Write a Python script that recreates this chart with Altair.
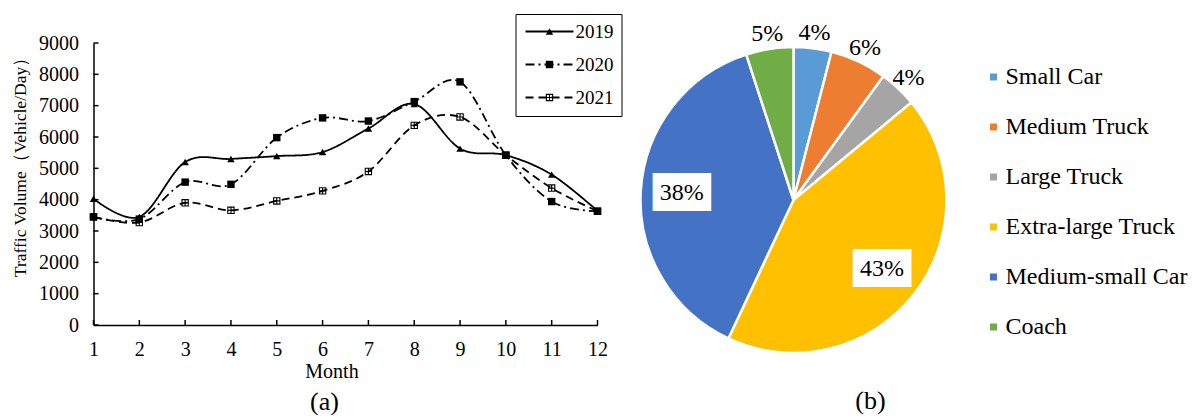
import altair as alt
import pandas as pd

# ---------------- data ----------------
months = list(range(1, 13))
years = ["2019", "2020", "2021"]
v2019 = [4030, 3450, 5200, 5300, 5390, 5520, 6270, 7050, 5630, 5420, 4800, 3640]
v2020 = [3450, 3380, 4560, 4490, 5980, 6610, 6510, 7130, 7760, 5420, 3940, 3630]
v2021 = [3450, 3270, 3900, 3660, 3960, 4280, 4900, 6370, 6640, 5420, 4370, 3630]
y_ticks = list(range(0, 9001, 1000))
y_title = "Traffic Volume（Vehicle/Day）"

categories = ["Small Car", "Medium Truck", "Large Truck", "Extra-large Truck",
              "Medium-small Car", "Coach"]
shares = [4, 6, 4, 43, 38, 5]
colors = ["#5B9BD5", "#ED7D31", "#A5A5A5", "#FFC000", "#4472C4", "#70AD47"]
inside = [False, False, False, True, True, False]

FONT = "Liberation Serif"

# ---------------- line chart ----------------
rows = []
for yr, vals in zip(years, [v2019, v2020, v2021]):
    for m, v in zip(months, vals):
        rows.append({"month": m, "value": v, "year": yr, "ym": yr})
line_df = pd.DataFrame(rows)

W_L, H_L = 504, 282
y_max = 9000
tick_len_y = y_max * 5 / H_L          # 5 px inward ticks
tick_len_x = (12 - 1) * 5 / W_L

x_scale = alt.Scale(domain=[1, 12], nice=False, zero=False)
y_scale = alt.Scale(domain=[0, y_max], nice=False)
x_axis = alt.Axis(values=months, title="Month", ticks=False, labelFlush=False,
                  labelPadding=14, labelFontSize=20, labelFont=FONT,
                  titleFont=FONT, titleFontSize=20, titleFontWeight="normal",
                  titlePadding=2, titleX=238, titleAnchor="start", titleAlign="center",
                  domainColor="black", domainWidth=1.5, grid=False,
                  labelColor="black", titleColor="black")
y_axis = alt.Axis(values=y_ticks, format="d", title=None, ticks=False, tickCount=10,
                  labelOverlap=False, labelFlush=False,
                  labelPadding=15, labelFontSize=20, labelFont=FONT,
                  domainColor="black", domainWidth=1.5, grid=False,
                  labelColor="black")

xt_df = pd.DataFrame({"month": months, "value": 0.0, "v2": tick_len_y})
x_ticks = alt.Chart(xt_df).mark_rule(color="black", strokeWidth=1.5).encode(
    x=alt.X("month:Q", scale=x_scale, axis=x_axis),
    y=alt.Y("value:Q", scale=y_scale, axis=y_axis),
    y2="v2:Q")
yt_df = pd.DataFrame({"value": y_ticks, "month": 1.0, "m2": 1 + tick_len_x})
y_ticks_m = alt.Chart(yt_df).mark_rule(color="black", strokeWidth=1.5).encode(
    y="value:Q", x="month:Q", x2="m2:Q")

# y-axis title as a rotated text placed left of the axis
y_title_txt = alt.Chart(pd.DataFrame({"t": [y_title]})).mark_text(
    angle=270, font=FONT, fontSize=17.5, color="black", align="center", baseline="middle"
).encode(text="t:N", x=alt.value(-73), y=alt.value(120))

line_sym = "M-2.5,0H13.5"
lines = alt.Chart(line_df).mark_line(interpolate="cardinal", color="black",
                                     strokeWidth=1.8).encode(
    x="month:Q", y="value:Q",
    strokeDash=alt.StrokeDash("year:N",
                              scale=alt.Scale(domain=years, range=[[1, 0], [9, 4, 2, 4], [8, 5]]),
                              legend=alt.Legend(orient="none", legendX=422, legendY=-29, title=None,
                                                symbolType=line_sym, symbolSize=36,
                                                symbolStrokeWidth=1.8, symbolStrokeColor="black",
                                                labelFont=FONT, labelFontSize=19, labelColor="black",
                                                strokeColor="black", padding=8, rowPadding=13,
                                                labelOffset=33)),
)

# hollow square with a cross (holes cut by reversed winding)
marker_path = ("M-1,-1H1V1H-1Z"
               "M-0.7,-0.7V-0.15H-0.15V-0.7Z"
               "M0.15,-0.7V-0.15H0.7V-0.7Z"
               "M-0.7,0.15V0.7H-0.15V0.15Z"
               "M0.15,0.15V0.7H0.7V0.15Z")
mk_legend = alt.Legend(orient="none", legendX=438.5, legendY=-29, title=None,
                       symbolSize=55, symbolFillColor="black", symbolStrokeColor="black",
                       symbolStrokeWidth=0.5,
                       labelFont=FONT, labelFontSize=19, labelOpacity=0,
                       padding=8, rowPadding=13, labelOffset=4)
points = alt.Chart(line_df).mark_point(filled=True, color="black", opacity=1, size=55).encode(
    x="month:Q", y="value:Q",
    shape=alt.Shape("ym:N", scale=alt.Scale(range=["triangle-up", "square", marker_path]),
                    legend=mk_legend),
)

left = alt.layer(x_ticks, y_ticks_m, lines, points, y_title_txt).properties(
    width=W_L, height=H_L,
    title=alt.TitleParams("(a)", orient="bottom", dx=-21, offset=8, fontSize=26,
                          font=FONT, fontWeight="normal", color="black"),
)

# ---------------- pie chart ----------------
pie_df = pd.DataFrame({
    "category": categories,
    "share": shares,
    "idx": list(range(len(categories))),
    "out_label": ["" if i else f"{s}%" for s, i in zip(shares, inside)],
    "in_label": [f"{s}%" if i else "" for s, i in zip(shares, inside)],
    "box": ["\u2588\u2588\u2588" if i else "" for i in inside],
})

pie_base = alt.Chart(pie_df).encode(
    theta=alt.Theta("share:Q", stack=True),
    order=alt.Order("idx:Q"),
)
arcs = pie_base.mark_arc(outerRadius=153, stroke="white", strokeWidth=2.5).encode(
    color=alt.Color("category:N",
                    scale=alt.Scale(domain=categories, range=colors),
                    legend=alt.Legend(orient="none", legendX=888, legendY=22, title=None,
                                      symbolType="square", symbolSize=49, symbolStrokeWidth=0,
                                      labelFont=FONT, labelFontSize=24, labelColor="black",
                                      labelLimit=400, rowPadding=26, labelOffset=0, padding=0)),
)
out_txt = pie_base.mark_text(radius=168, font=FONT, fontSize=24, color="black").encode(
    text="out_label:N", detail="category:N")
box_txt = pie_base.mark_text(radius=112, font="DejaVu Sans Mono", fontSize=32,
                             color="white").encode(text="box:N", detail="category:N")
in_txt = pie_base.mark_text(radius=112, font=FONT, fontSize=24, color="black").encode(
    text="in_label:N", detail="category:N")

right = alt.layer(arcs, out_txt, box_txt, in_txt).properties(
    width=314, height=314,
    title=alt.TitleParams("(b)", orient="bottom", dx=77, offset=30, fontSize=26,
                          font=FONT, fontWeight="normal", color="black"),
)

chart = alt.hconcat(left, right, spacing=39, bounds="flush").configure(
    padding={"left": 10.5, "top": 13, "right": 0, "bottom": 0},
    font=FONT,
).configure_view(stroke=None).configure_axisY(
    labelOverlap=False
).configure_axisX(titleFontSize=20, titleFont=FONT)

chart.save("out.html", embed_options={"renderer": "svg", "actions": False})
